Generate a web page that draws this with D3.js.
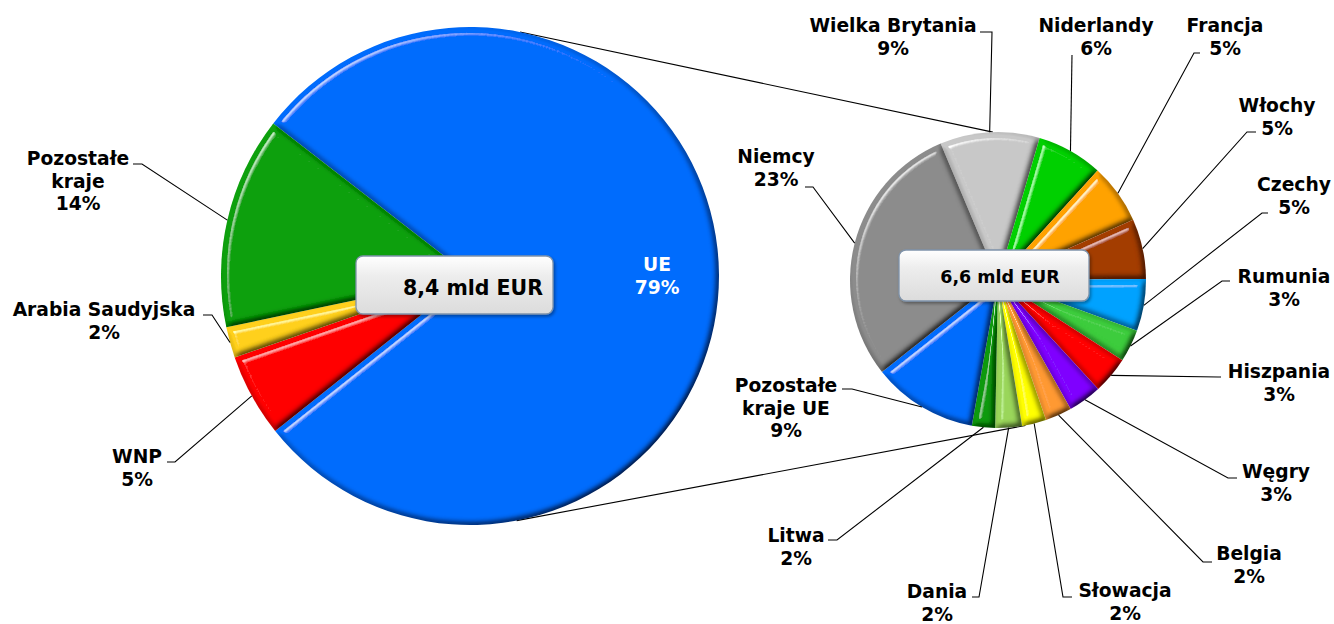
<html>
<head>
<meta charset="utf-8">
<title>Eksport - UE</title>
<style>
body { margin: 0; background: #ffffff; }
svg { display: block; font-family: "DejaVu Sans", Verdana, sans-serif; font-weight: bold; }
</style>
</head>
<body>
<svg width="1334" height="624"></svg>
<script src="https://d3js.org/d3.v7.min.js"></script>
<script>
// ---- data ----
var worldNames  = ["UE", "WNP", "Arabia Saudyjska", "Pozostałe kraje"];
var worldValues = [78.8, 5.4, 2.0, 13.8];
var worldPct    = ["79%", "5%", "2%", "14%"];
var worldColors = ["#066cfd", "#ff0000", "#ffd01a", "#08a008"];
var worldTotal  = "8,4 mld EUR";

var euNames  = ["Wielka Brytania", "Niderlandy", "Francja", "Włochy", "Czechy", "Rumunia",
                "Hiszpania", "Węgry", "Belgia", "Słowacja", "Dania", "Litwa",
                "Pozostałe kraje UE", "Niemcy"];
var euValues = [8.6, 5.7, 5.2, 5.2, 4.5, 2.8, 3.2, 2.9, 2.3, 2.1, 2.3, 2.0, 9.1, 23.2];
var euPct    = ["9%", "6%", "5%", "5%", "5%", "3%", "3%", "3%", "2%", "2%", "2%", "2%", "9%", "23%"];
var euColors = ["#c8c8c8", "#00d000", "#ffa200", "#a33c00", "#00a2ff", "#3ccc3c",
                "#ff0000", "#7f00ff", "#ff9933", "#ffff00", "#9ad65a", "#0a9a0a",
                "#066cfd", "#8c8c8c"];
var euTotal  = "6,6 mld EUR";

// label layout: text lines, text centre x, first baseline y, elbow of leader, end of tick
var worldLabels = [
  {lines: ["UE", worldPct[0]], x: 657, y: 271, inside: true},
  {lines: ["WNP", worldPct[1]], x: 137, y: 463, ex: 175, ey: 462, tx: 167},
  {lines: ["Arabia Saudyjska", worldPct[2]], x: 104, y: 316, ex: 212, ey: 315, tx: 203},
  {lines: ["Pozostałe", "kraje", worldPct[3]], x: 78, y: 165, ex: 142, ey: 164, tx: 133}
];
var euLabels = [
  {lines: ["Wielka Brytania"], x: 893, y: 32, ex: 992, ey: 32, tx: 980},
  {lines: ["Niderlandy"], x: 1096, y: 32, ex: 1072, ey: 55, tx: 1072},
  {lines: ["Francja"], x: 1225, y: 32, ex: 1194, ey: 53, tx: 1200},
  {lines: ["Włochy"], x: 1277, y: 112, ex: 1247, ey: 132, tx: 1256},
  {lines: ["Czechy"], x: 1294, y: 191, ex: 1262, ey: 213, tx: 1268},
  {lines: ["Rumunia"], x: 1284, y: 283, ex: 1222, ey: 281, tx: 1230},
  {lines: ["Hiszpania"], x: 1279, y: 378, ex: 1218, ey: 377, tx: 1221},
  {lines: ["Węgry"], x: 1276, y: 478, ex: 1228, ey: 478, tx: 1237},
  {lines: ["Belgia"], x: 1249, y: 560, ex: 1203, ey: 562, tx: 1212},
  {lines: ["Słowacja"], x: 1125, y: 597, ex: 1063, ey: 597, tx: 1072},
  {lines: ["Dania"], x: 937, y: 598, ex: 979, ey: 597, tx: 972},
  {lines: ["Litwa"], x: 796, y: 542, ex: 837, ey: 540, tx: 828},
  {lines: ["Pozostałe", "kraje UE"], x: 786, y: 392, ex: 852, ey: 389, tx: 842},
  {lines: ["Niemcy"], x: 776, y: 163, ex: 813, ey: 187, tx: 805}
];
euLabels.forEach(function(L, i) { L.lines.push(euPct[i]); });

var svg = d3.select("svg");
var deg = Math.PI / 180;
var lineH = 22.5;

var left  = {cx: 470, cy: 276, r: 249, start: -52.2};
var right = {cx: 998, cy: 280, r: 148, start: -22.8};

// bevel look of the slices
var defs = svg.append("defs");
var f = defs.append("filter").attr("id", "bevel")
    .attr("x", "-10%").attr("y", "-10%").attr("width", "120%").attr("height", "120%");
f.append("feGaussianBlur").attr("in", "SourceAlpha").attr("stdDeviation", 3).attr("result", "b");
f.append("feDiffuseLighting").attr("in", "b").attr("surfaceScale", 6)
    .attr("diffuseConstant", 1.155).attr("lighting-color", "#fff").attr("result", "d")
  .append("feDistantLight").attr("azimuth", 225).attr("elevation", 60);
f.append("feComposite").attr("in", "SourceGraphic").attr("in2", "d")
    .attr("operator", "arithmetic").attr("k1", 1).attr("result", "shaded");
f.append("feSpecularLighting").attr("in", "b").attr("surfaceScale", 6)
    .attr("specularConstant", 1).attr("specularExponent", 40)
    .attr("lighting-color", "#fff").attr("result", "s")
  .append("feDistantLight").attr("azimuth", 225).attr("elevation", 60);
var ct = f.append("feComponentTransfer").attr("in", "s").attr("result", "s2");
["feFuncR", "feFuncG", "feFuncB", "feFuncA"].forEach(function(n) {
  ct.append(n).attr("type", "linear").attr("slope", 1.3).attr("intercept", -0.35);
});
f.append("feComposite").attr("in", "s2").attr("in2", "SourceAlpha")
    .attr("operator", "in").attr("result", "s3");
f.append("feComposite").attr("in", "shaded").attr("in2", "s3")
    .attr("operator", "arithmetic").attr("k2", 1).attr("k3", 0.6);

var g = defs.append("linearGradient").attr("id", "boxfill")
    .attr("x1", 0).attr("y1", 0).attr("x2", 0).attr("y2", 1);
g.append("stop").attr("offset", "0%").attr("stop-color", "#ffffff");
g.append("stop").attr("offset", "35%").attr("stop-color", "#ededed");
g.append("stop").attr("offset", "100%").attr("stop-color", "#dcdcdc");

var sh = defs.append("filter").attr("id", "shadow")
    .attr("x", "-10%").attr("y", "-20%").attr("width", "125%").attr("height", "150%");
sh.append("feDropShadow").attr("dx", 1.5).attr("dy", 2).attr("stdDeviation", 1.5)
    .attr("flood-color", "#000").attr("flood-opacity", 0.35);

function edge(p, a) {
  return [p.cx + p.r * Math.sin(a * deg), p.cy - p.r * Math.cos(a * deg)];
}

// connector lines between the two pies
var connectors = [[11.6, -2], [169.2, 169.3]];
svg.append("g").selectAll("line").data(connectors).enter().append("line")
    .attr("x1", function(d) { return edge(left, d[0])[0]; })
    .attr("y1", function(d) { return edge(left, d[0])[1]; })
    .attr("x2", function(d) { return edge(right, d[1])[0]; })
    .attr("y2", function(d) { return edge(right, d[1])[1]; })
    .attr("stroke", "#000").attr("stroke-width", 1.1);

function drawPie(p, names, values, colors, labels) {
  var pie = d3.pie().sort(null).value(function(d) { return d; })
      .startAngle(p.start * deg).endAngle((p.start + 360) * deg);
  var arcs = pie(values);
  var arc = d3.arc().innerRadius(0).outerRadius(p.r);

  var gp = svg.append("g").attr("transform", "translate(" + p.cx + "," + p.cy + ")");
  gp.selectAll("path").data(arcs).enter().append("path")
      .attr("d", arc)
      .attr("fill", function(d, i) { return colors[i]; })
      .attr("filter", "url(#bevel)")
    .append("title").text(function(d, i) { return names[i]; });

  // leader lines
  var lg = svg.append("g");
  arcs.forEach(function(a, i) {
    var L = labels[i];
    if (L.inside) return;
    var mid = (a.startAngle + a.endAngle) / 2 / deg;
    var e = edge(p, mid);
    lg.append("polyline")
        .attr("points", [e, [L.ex, L.ey], [L.tx, L.ey]].map(function(q) { return q.join(","); }).join(" "))
        .attr("fill", "none").attr("stroke", "#000").attr("stroke-width", 1.1);
  });

  // labels
  var tg = svg.append("g").attr("text-anchor", "middle").attr("font-size", "18.7px");
  labels.forEach(function(L, i) {
    var t = tg.append("text").attr("fill", L.inside ? "#ffffff" : "#000000");
    L.lines.forEach(function(s, k) {
      t.append("tspan").attr("x", L.x).attr("y", L.y + k * lineH).text(s);
    });
  });
}

drawPie(left, worldNames, worldValues, worldColors, worldLabels);
drawPie(right, euNames, euValues, euColors, euLabels);

// total boxes
function totalBox(x, y, w, h, tx, ty, size, txt) {
  svg.append("rect").attr("x", x).attr("y", y).attr("width", w).attr("height", h)
      .attr("rx", 7).attr("fill", "url(#boxfill)")
      .attr("stroke", "#7f93aa").attr("stroke-width", 1.3)
      .attr("filter", "url(#shadow)");
  svg.append("text").attr("x", tx).attr("y", ty).attr("text-anchor", "middle")
      .attr("font-size", size).attr("fill", "#000").text(txt);
}
totalBox(356, 256, 197, 58, 473, 295, "20.5px", worldTotal);
totalBox(899, 250, 190, 51, 1000, 283, "17.5px", euTotal);
</script>
</body>
</html>
